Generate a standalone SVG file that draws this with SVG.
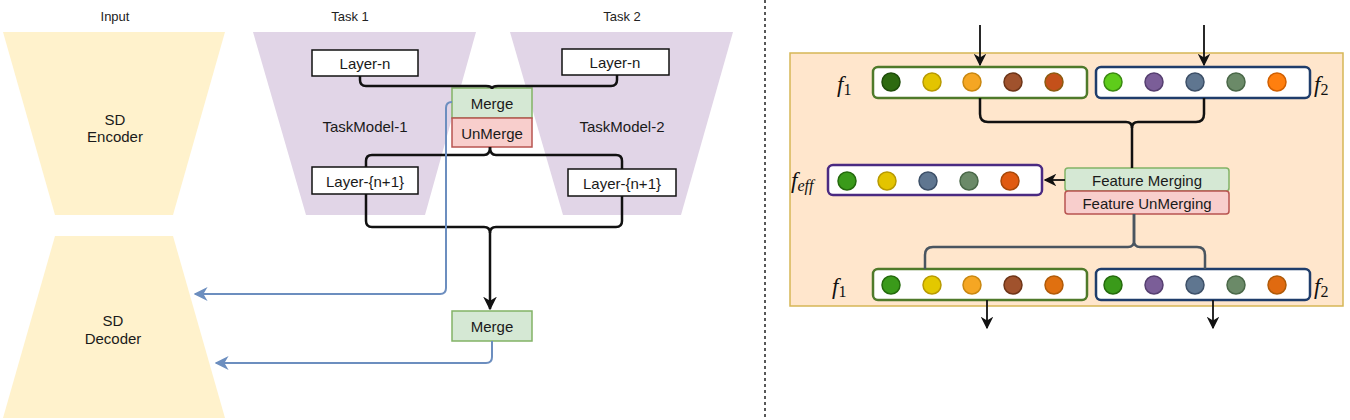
<svg xmlns="http://www.w3.org/2000/svg" width="1350" height="420" viewBox="0 0 1350 420">
<defs>
<style>
.lbl{font-family:"Liberation Sans","DejaVu Sans",sans-serif;font-size:15px;fill:#1a1a1a;text-anchor:middle;dominant-baseline:central}
.title{font-family:"Liberation Sans","DejaVu Sans",sans-serif;font-size:13px;fill:#222;text-anchor:middle;dominant-baseline:central}
.box{fill:#fff;stroke:#111;stroke-width:1.5}
.mrg{fill:#d5e8d4;stroke:#82b366;stroke-width:1.5}
.unm{fill:#f8cecc;stroke:#b85450;stroke-width:1.5}
.blk{fill:none;stroke:#111;stroke-width:2.5;stroke-linejoin:round}
.blu{fill:none;stroke:#6c8ebf;stroke-width:2}
.gry{fill:none;stroke:#4a5560;stroke-width:2.5}
.thin{fill:none;stroke:#111;stroke-width:1.8}
.math{font-family:"Liberation Serif","DejaVu Serif",serif;font-style:italic;fill:#111}
.vec{fill:#fff;stroke-width:2.5}
</style>
<marker id="ab" viewBox="0 0 10 10" refX="9" refY="5" markerWidth="5.5" markerHeight="5.5" orient="auto" markerUnits="strokeWidth">
<path d="M0,0 L10,5 L0,10 L3,5 z" fill="#111"/>
</marker>
<marker id="abs" viewBox="0 0 10 10" refX="9" refY="5" markerWidth="7" markerHeight="7" orient="auto" markerUnits="strokeWidth">
<path d="M0,0 L10,5 L0,10 L3,5 z" fill="#111"/>
</marker>
<marker id="ablue" viewBox="0 0 10 10" refX="9" refY="5" markerWidth="7" markerHeight="7" orient="auto" markerUnits="strokeWidth">
<path d="M0,0 L10,5 L0,10 L3,5 z" fill="#6c8ebf"/>
</marker>
</defs>
<rect width="1350" height="420" fill="#fff"/>

<!-- Left panel -->
<text class="title" x="115" y="16">Input</text>
<text class="title" x="350" y="16">Task 1</text>
<text class="title" x="622" y="16">Task 2</text>

<g id="sd-encoder">
<polygon points="3,32 225,32 173,215 55,215" fill="#fff2cc"/>
<text class="lbl" x="115" y="119">SD</text>
<text class="lbl" x="115" y="136">Encoder</text>
</g>
<g id="sd-decoder">
<polygon points="55,236 173,236 225,418 3,418" fill="#fff2cc"/>
<text class="lbl" x="113" y="320">SD</text>
<text class="lbl" x="113" y="338">Decoder</text>
</g>
<g id="taskmodel-1">
<polygon points="253,32 476,32 425,215 306,215" fill="#e1d5e7"/>
<text class="lbl" x="365" y="126">TaskModel-1</text>
</g>
<g id="taskmodel-2">
<polygon points="510,32 733,32 681,215 563,215" fill="#e1d5e7"/>
<text class="lbl" x="622" y="126">TaskModel-2</text>
</g>
<g id="layer-n-1">
<rect class="box" x="312" y="50" width="106" height="26"/>
<text class="lbl" x="365" y="63">Layer-n</text>
</g>
<g id="layer-n-2">
<rect class="box" x="562" y="49" width="107" height="26"/>
<text class="lbl" x="615" y="62">Layer-n</text>
</g>
<g id="merge-1">
<rect class="mrg" x="452" y="88" width="80" height="30"/>
<text class="lbl" x="492" y="103">Merge</text>
</g>
<g id="unmerge-1">
<rect class="unm" x="452" y="118" width="80" height="29"/>
<text class="lbl" x="492" y="133">UnMerge</text>
</g>
<g id="layer-n1-1">
<rect class="box" x="312" y="167" width="106" height="27"/>
<text class="lbl" x="365" y="181">Layer-{n+1}</text>
</g>
<g id="layer-n1-2">
<rect class="box" x="568" y="169" width="108" height="27"/>
<text class="lbl" x="622" y="183">Layer-{n+1}</text>
</g>
<g id="merge-2">
<rect class="mrg" x="452" y="311" width="80" height="30"/>
<text class="lbl" x="492" y="326">Merge</text>
</g>

<!-- separator -->
<line x1="765" y1="0" x2="765" y2="420" stroke="#222" stroke-width="1.5" stroke-dasharray="3,3"/>

<!-- Right panel -->
<g id="panel">
<rect x="790" y="53" width="553" height="253" fill="#ffe6cc" stroke="#d6b656" stroke-width="1.5"/>
</g>

<g id="f1-top">
<rect class="vec" x="873" y="67" width="214" height="31" rx="5" stroke="#4f7a2a"/>
<circle cx="891" cy="82" r="9" fill="#2d6a10" stroke="#1e4d0a" stroke-width="1.5"/>
<circle cx="932" cy="82" r="9" fill="#e3c400" stroke="#b89a00" stroke-width="1.5"/>
<circle cx="972" cy="82" r="9" fill="#f5a623" stroke="#c98710" stroke-width="1.5"/>
<circle cx="1013" cy="82" r="9" fill="#a0522d" stroke="#6e3518" stroke-width="1.5"/>
<circle cx="1054" cy="82" r="9" fill="#c4501a" stroke="#8e5a10" stroke-width="1.5"/>
<text class="math" x="837" y="92" font-size="23">f<tspan font-size="16" font-style="normal" dy="3">1</tspan></text>
</g>
<g id="f2-top">
<rect class="vec" x="1096" y="67" width="214" height="31" rx="5" stroke="#1f3d6b"/>
<circle cx="1113" cy="82" r="9" fill="#5ecc1a" stroke="#3a8a10" stroke-width="1.5"/>
<circle cx="1154" cy="82" r="9" fill="#7b5e98" stroke="#563f70" stroke-width="1.5"/>
<circle cx="1195" cy="82" r="9" fill="#5f7690" stroke="#3d5068" stroke-width="1.5"/>
<circle cx="1236" cy="82" r="9" fill="#6b8a68" stroke="#4a6848" stroke-width="1.5"/>
<circle cx="1277" cy="82" r="9" fill="#ff7f0e" stroke="#d15f00" stroke-width="1.5"/>
<text class="math" x="1314" y="92" font-size="23">f<tspan font-size="16" font-style="normal" dy="3">2</tspan></text>
</g>
<g id="feff">
<rect class="vec" x="828" y="165" width="214" height="30" rx="5" stroke="#4a2a82"/>
<circle cx="847" cy="181" r="9" fill="#3a9a1a" stroke="#246a0c" stroke-width="1.5"/>
<circle cx="887" cy="181" r="9" fill="#e3c400" stroke="#b89a00" stroke-width="1.5"/>
<circle cx="928" cy="181" r="9" fill="#5f7690" stroke="#3d5068" stroke-width="1.5"/>
<circle cx="969" cy="181" r="9" fill="#6b8a68" stroke="#4a6848" stroke-width="1.5"/>
<circle cx="1010" cy="181" r="9" fill="#e05a10" stroke="#a84808" stroke-width="1.5"/>
<text class="math" x="791" y="188" font-size="23">f<tspan font-size="16" dy="3">eff</tspan></text>
</g>
<g id="feature-merging">
<rect x="1065" y="168" width="164" height="23" rx="3" fill="#d5e8d4" stroke="#82b366" stroke-width="1.5"/>
<text class="lbl" x="1147" y="180" font-size="15">Feature Merging</text>
</g>
<g id="feature-unmerging">
<rect x="1065" y="191" width="164" height="23" rx="3" fill="#f8cecc" stroke="#b85450" stroke-width="1.5"/>
<text class="lbl" x="1147" y="203" font-size="15">Feature UnMerging</text>
</g>
<g id="f1-bottom">
<rect class="vec" x="873" y="269" width="214" height="31" rx="5" stroke="#4f7a2a"/>
<circle cx="891" cy="285" r="9" fill="#3a9a1a" stroke="#246a0c" stroke-width="1.5"/>
<circle cx="932" cy="285" r="9" fill="#e3c800" stroke="#b89a00" stroke-width="1.5"/>
<circle cx="972" cy="285" r="9" fill="#f5a623" stroke="#c98710" stroke-width="1.5"/>
<circle cx="1013" cy="285" r="9" fill="#a0522d" stroke="#6e3518" stroke-width="1.5"/>
<circle cx="1054" cy="285" r="9" fill="#e07010" stroke="#b05a08" stroke-width="1.5"/>
<text class="math" x="832" y="294" font-size="23">f<tspan font-size="16" font-style="normal" dy="3">1</tspan></text>
</g>
<g id="f2-bottom">
<rect class="vec" x="1096" y="269" width="214" height="31" rx="5" stroke="#1f3d6b"/>
<circle cx="1113" cy="285" r="9" fill="#3a9a1a" stroke="#246a0c" stroke-width="1.5"/>
<circle cx="1154" cy="285" r="9" fill="#7b5e98" stroke="#563f70" stroke-width="1.5"/>
<circle cx="1195" cy="285" r="9" fill="#5f7690" stroke="#3d5068" stroke-width="1.5"/>
<circle cx="1236" cy="285" r="9" fill="#6b8a68" stroke="#4a6848" stroke-width="1.5"/>
<circle cx="1277" cy="285" r="9" fill="#e06a10" stroke="#b05a08" stroke-width="1.5"/>
<text class="math" x="1314" y="294" font-size="23">f<tspan font-size="16" font-style="normal" dy="3">2</tspan></text>
</g>

<g id="connectors">
<!-- left: Layer-n to Merge -->
<path class="blk" d="M360,76 V80 Q360,86 366,86 H486 Q492,86 492,89"/>
<path class="blk" d="M617,75 V80 Q617,86 611,86 H498 Q492,86 492,89"/>
<!-- UnMerge to Layer-{n+1} -->
<path class="blk" d="M490,147 Q490,155 484,155 H372 Q366,155 366,161 V167"/>
<path class="blk" d="M490,147 Q490,155 496,155 H616 Q622,155 622,161 V169"/>
<!-- Layer-{n+1} to Merge -->
<path class="blk" d="M366,194 V221 Q366,227 372,227 H484 Q490,227 490,233"/>
<path class="blk" d="M622,196 V221 Q622,227 616,227 H496 Q490,227 490,233 V309" marker-end="url(#ab)"/>
<!-- blue arrows -->
<path class="blu" d="M452,102 Q446,102 446,108 V288 Q446,294 440,294 H195" marker-end="url(#ablue)"/>
<path class="blu" d="M492,341 V357 Q492,363 486,363 H216" marker-end="url(#ablue)"/>

<!-- right panel -->
<path class="thin" d="M980,25 V65" marker-end="url(#abs)"/>
<path class="thin" d="M1204,25 V65" marker-end="url(#abs)"/>
<path class="blk" d="M980,98 V114 Q980,122 988,122 H1126 Q1132,122 1132,128"/>
<path class="blk" d="M1204,98 V114 Q1204,122 1196,122 H1138 Q1132,122 1132,128 V168"/>
<path class="thin" d="M1065,180 H1045" marker-end="url(#abs)"/>
<path class="gry" d="M1134,214 V241 Q1134,247 1128,247 H933 Q925,247 925,255 V269"/>
<path class="gry" d="M1134,214 V241 Q1134,247 1140,247 H1197 Q1205,247 1205,255 V269"/>
<path class="thin" d="M987,300 V328" marker-end="url(#abs)"/>
<path class="thin" d="M1213,300 V328" marker-end="url(#abs)"/>
</g>
</svg>
